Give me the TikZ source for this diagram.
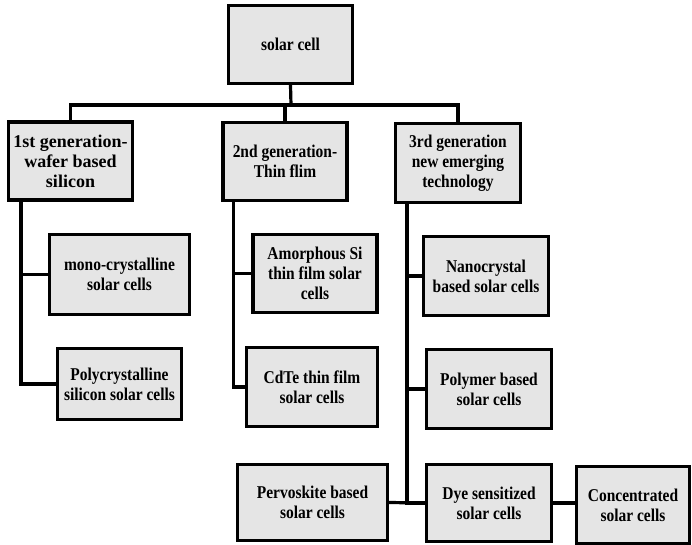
\documentclass[tikz,border=0pt]{standalone}
\usepackage{fontspec}
\setmainfont{Liberation Serif}[FakeStretch=0.86]
\newfontfamily\widerfont{Liberation Serif}
\usepackage{tikz}
\usetikzlibrary{backgrounds, positioning}
\usepackage{xcolor}
\definecolor{cellgray}{RGB}{229,229,229}

\begin{document}
\begin{tikzpicture}[x=1pt, y=-1pt,
  cell/.style={draw, fill=cellgray, line width=3.2pt, align=center, inner sep=0pt,
               minimum width=124, minimum height=78,
               font=\fontsize{18}{20}\selectfont\bfseries},
  link/.style={line width=3.2pt}]
\useasboundingbox (0,0) rectangle (692,545);
%
\node[cell] (solar) at (290.5,44.5) {solar cell};
%
\node[cell, font=\fontsize{18}{20}\selectfont\widerfont\bfseries] (gen1) at (70.5,161) {1st generation-\\wafer based\\silicon};
\node[cell] (gen2) at (285,161.5) {2nd generation-\\Thin flim};
\node[cell, minimum width=125, minimum height=79] (gen3) at (458,163) {3rd generation\\new emerging\\technology};
%
\node[cell, minimum width=140, minimum height=80] (mono) at (119.5,274.5) {mono-crystalline\\solar cells};
\node[cell, minimum height=71] (poly) at (119.5,384) {Polycrystalline\\silicon solar cells};
%
\node[cell] (amorph) at (315,273.5) {Amorphous Si\\thin film solar\\cells};
\node[cell, minimum width=131, minimum height=79] (cdte) at (312,387) {CdTe thin film\\solar cells};
\node[cell, minimum width=150, minimum height=76] (pervo) at (312.5,502.5) {Pervoskite based\\solar cells};
%
\node[cell, minimum width=125, minimum height=79] (nano) at (486,276) {Nanocrystal\\based solar cells};
\node[cell, minimum width=125, minimum height=79] (polymer) at (489,389) {Polymer based\\solar cells};
\node[cell, minimum width=125, minimum height=77] (dye) at (489,503) {Dye sensitized\\solar cells};
\node[cell, minimum width=113, minimum height=77] (conc) at (633,505) {Concentrated\\solar cells};
%
\coordinate (bus) at (291,105);
\draw[link] (solar.south) -- (bus);
\draw[link] (gen1.north) |- (bus) -| (gen3.north);
\draw[link] (gen2.north) -- (gen2.north |- bus);
%
\draw[link] ([xshift=14pt]gen1.south west) |- (mono.west);
\draw[link] ([xshift=14pt]gen1.south west) |- (poly.west);
\draw[link] ([xshift=12pt]gen2.south west) |- (amorph.west);
\draw[link] ([xshift=12pt]gen2.south west) |- (cdte.west);
\draw[link] ([xshift=13pt]gen3.south west) |- (nano.west);
\draw[link] ([xshift=13pt]gen3.south west) |- (polymer.west);
\draw[link] ([xshift=13pt]gen3.south west) |- (dye.west);
\draw[link] (pervo.east) -- (dye.west);
\draw[link] (dye.east) -- (conc.west |- dye.east);
%
\end{tikzpicture}
\end{document}
